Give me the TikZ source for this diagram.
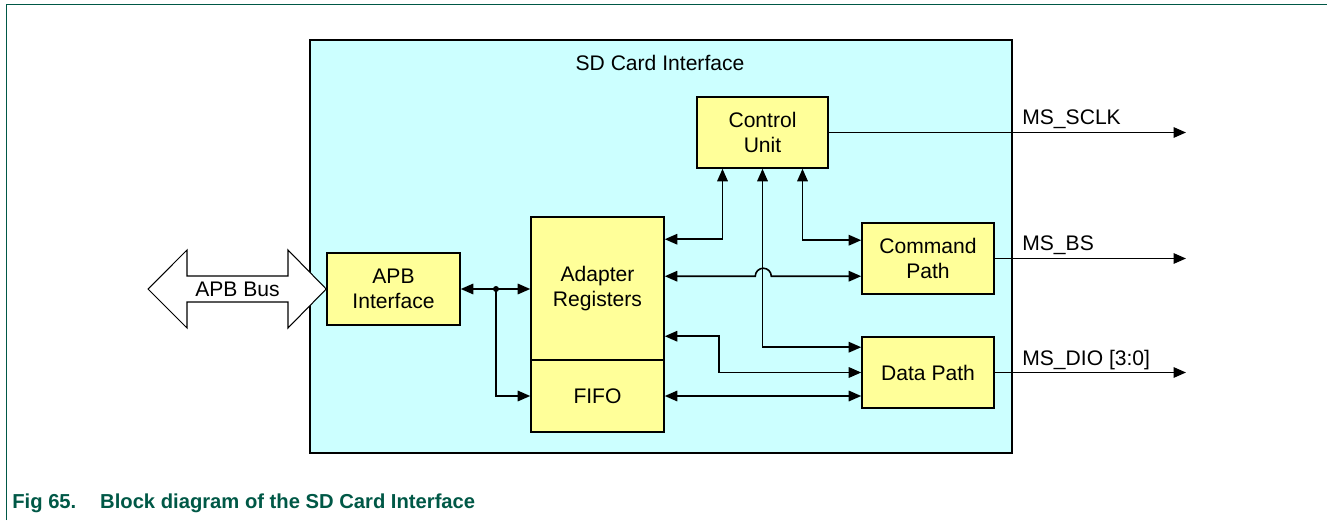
\documentclass[tikz,border=0pt]{standalone}
\usepackage{fontspec}
\setmainfont{Liberation Sans}
\usetikzlibrary{arrows.meta,calc}
\definecolor{sdcyan}{RGB}{204,255,255}
\definecolor{sdyellow}{RGB}{255,255,153}
\definecolor{sdgreen}{RGB}{0,88,70}

\begin{document}
\begin{tikzpicture}[x=0.02cm,y=-0.02cm,
    block/.style={draw,line width=0.9pt,fill=sdyellow,align=center,inner sep=0pt,
        font=\fontsize{12}{14.2}\selectfont},
    dlink/.style={line width=0.9pt,{Triangle[length=0.25cm,width=0.21cm]}-{Triangle[length=0.25cm,width=0.21cm]}},
    olink/.style={line width=0.9pt,-{Triangle[length=0.25cm,width=0.21cm]}},
    sig/.style={anchor=base west,inner sep=0pt,font=\fontsize{12}{14.2}\selectfont}]
    \useasboundingbox (0,0) rectangle (1327,520);

    % Page frame
    \draw[sdgreen,line width=1.1pt] (6.5,520) -- (6.5,4.5) -- (1327,4.5);

    % SD card interface box
    \node[draw,line width=0.9pt,fill=sdcyan,minimum width=14.04cm,minimum height=8.26cm] (sdbox) at (661,246.5) {};
    \node[font=\fontsize{12}{14.2}\selectfont] (sdtitle) at (660,63) {SD Card Interface};

    % Blocks
    \node[block,minimum width=2.62cm,minimum height=1.42cm] (ctrl) at (762.5,132.5) {Control\\Unit};
    \node[block,minimum width=2.64cm,minimum height=1.42cm] (cmd) at (928,258.5) {Command\\Path};
    \node[block,minimum width=2.64cm,minimum height=1.42cm] (data) at (928,372.5) {Data Path};
    \node[block,minimum width=2.66cm,minimum height=2.86cm] (adapter) at (597.5,288.5) {Adapter\\Registers};
    \node[block,minimum width=2.66cm,minimum height=1.44cm] (fifo) at (597.5,396) {FIFO};
    \node[block,minimum width=2.66cm,minimum height=1.44cm] (apbif) at (393.5,289) {APB\\Interface};

    % APB bus arrow
    \draw[line width=0.6pt,fill=white] (148,289) -- (187,250) -- (187,276) -- (288,276) -- (288,250)
        -- (apbif.west) -- (288,328) -- (288,302) -- (187,302) -- (187,328) -- cycle;
    \node[font=\fontsize{12}{14.2}\selectfont] (apbbus) at (237.5,289) {APB Bus};

    % APB interface to registers and FIFO
    \coordinate (split) at (496,289);
    \draw[dlink] (apbif.east) -- (apbif.east -| adapter.west);
    \draw[olink] (split) |- (fifo.west);
    \fill (split) circle (3);

    % Registers, control unit and paths
    \draw[dlink] ($(adapter.north east)+(0,23)$) -| ($(ctrl.south)+(-40,0)$);
    \draw[dlink] ($(ctrl.south)+(40,0)$) |- ($(cmd.north west)+(0,18)$);
    \draw[dlink] ($(adapter.north east)+(0,60)$) -- ++(90.5,0) arc[start angle=180,end angle=360,radius=8]
        -- ($(cmd.north west)+(0,54)$);
    \draw[dlink] (ctrl.south) |- ($(data.north west)+(0,11)$);
    \draw[dlink] ($(adapter.north east)+(0,120)$) -- ++(54,0) |- (data.west);
    \draw[dlink] (fifo.east) -- (fifo.east -| data.west);

    % Card signals
    \coordinate (outx) at (1186,0);
    \draw[olink] (ctrl.east) -- (ctrl.east -| outx);
    \draw[olink] (cmd.east) -- (cmd.east -| outx);
    \draw[olink] (data.east) -- (data.east -| outx);
    \node[sig] (sclk) at (1022,125) {MS\_SCLK};
    \node[sig] (bs) at (1022,250) {MS\_BS};
    \node[sig] (dio) at (1022,365) {MS\_DIO [3:0]};

    % Caption
    \node[anchor=base west,inner sep=0pt,text=sdgreen,font=\bfseries\fontsize{11.5}{13}\selectfont] (figcap)
        at (12,508) {\makebox[50pt][l]{Fig 65.}Block diagram of the SD Card Interface};
\end{tikzpicture}
\end{document}
